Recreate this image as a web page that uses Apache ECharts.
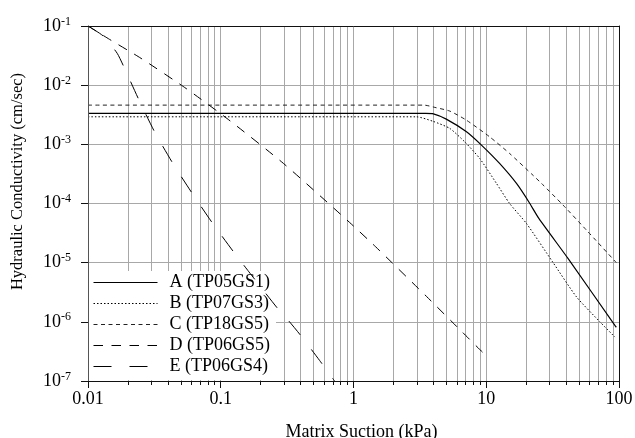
<!DOCTYPE html>
<html><head><meta charset="utf-8">
<script src="https://cdn.jsdelivr.net/npm/echarts@6/dist/echarts.min.js"></script>
<style>html,body{margin:0;padding:0;background:#fff}#c{width:635px;height:438px}</style>
</head><body><div id="c"></div>
<script>
// ---- data ----
const seriesNames = ['A (TP05GS1)', 'B (TP07GS3)', 'C (TP18GS5)', 'D (TP06GS5)', 'E (TP06GS4)'];

const suctionA = [0.01, 3.5, 4.0, 5.0, 7.1, 9.2, 12.6, 16.9, 20.9, 24.9, 41.4, 93.1, 95.5];
const condA    = [3.33e-3, 3.33e-3, 3.27e-3, 2.67e-3, 1.63e-3, 9.7e-4, 4.75e-4, 2.18e-4, 1.07e-4, 5.6e-5, 1.17e-5, 8.7e-7, 8.1e-7];

const suctionB = [0.01, 2.98, 3.97, 5.31, 6.89, 8.93, 11.9, 15.0, 20.1, 31.9, 47.9, 71.8, 93.1];
const condB    = [2.92e-3, 2.92e-3, 2.45e-3, 1.86e-3, 1.10e-3, 5.77e-4, 2.21e-4, 1.0e-4, 4.59e-5, 1.0e-5, 2.63e-6, 1.0e-6, 5.53e-7];

const suctionC = [0.01, 3.4, 4.21, 5.31, 7.09, 10.6, 15.0, 22.5, 26.1, 37.9, 57.0, 95.5];
const condC    = [4.6e-3, 4.6e-3, 4.15e-3, 3.65e-3, 2.56e-3, 1.34e-3, 7.0e-4, 3.0e-4, 2.18e-4, 9.4e-5, 3.53e-5, 1.0e-5];

const suctionD = [0.01, 0.0145, 0.0251, 0.0548, 0.114, 0.297, 0.933, 1.47, 3.54, 6.65, 9.46];
const condD    = [1e-1, 5.96e-2, 2.84e-2, 8.8e-3, 2.63e-3, 4.75e-4, 4.8e-5, 1.85e-5, 2.7e-6, 6.6e-7, 3.0e-7];

const suctionE = [0.01, 0.013, 0.0166, 0.019, 0.0244, 0.032, 0.044, 0.0615, 0.087, 0.125, 0.163, 0.269, 0.326, 0.393, 0.555, 0.72];
const condE    = [1e-1, 6.8e-2, 3.45e-2, 1.85e-2, 5.4e-3, 1.57e-3, 4.6e-4, 1.44e-4, 4.6e-5, 1.52e-5, 7e-6, 1.67e-6, 1.03e-6, 6.2e-7, 2.23e-7, 1e-7];

const xMajorTicks = [0.01, 0.1, 1, 10, 100];
const xTickLabels = ['0.01', '0.1', '1', '10', '100'];
const xGridValues = [0.01,0.02,0.03,0.04,0.05,0.06,0.07,0.08,0.09,
                     0.1,0.2,0.3,0.4,0.5,0.6,0.7,0.8,0.9,
                     1,2,3,4,5,6,7,8,9,
                     10,20,30,40,50,60,70,80,90,100];
const yMajorTicks = [1e-7, 1e-6, 1e-5, 1e-4, 1e-3, 1e-2, 1e-1];
const yTickExponents = ['-7', '-6', '-5', '-4', '-3', '-2', '-1'];

const xTitle = 'Matrix Suction (kPa)';
const yTitle = 'Hydraulic Conductivity (cm/sec)';

// ---- chart ----
const FONT = '"Liberation Serif","Times New Roman",serif';
const zip = (xs, ys) => xs.map((x, i) => [x, ys[i]]);
const idxOf = (arr, v) => arr.findIndex(t => Math.abs(Math.log10(t) - Math.log10(v)) < 1e-6);

const X = {min: 0.01, max: 100};
const Y = {min: 1e-7, max: 1e-1};
const GRIDC = '#a8a8a8';

const baseX = {type: 'log', logBase: 10, min: X.min, max: X.max, splitNumber: 4};
const baseY = {type: 'log', logBase: 10, min: Y.min, max: Y.max, splitNumber: 6};

const lineSeries = (i, xs, ys, color, width, type) => ({
  name: seriesNames[i], type: 'line', data: zip(xs, ys), symbol: 'none', showSymbol: false, z: 2,
  smooth: 0.2, itemStyle: {color: color}, lineStyle: {color: color, width: width, type: type}
});

const chart = echarts.init(document.getElementById('c'), null, {renderer: 'canvas'});
chart.setOption({
  animation: false,
  backgroundColor: '#fff',
  grid: {left: 88, right: 16, top: 26, bottom: 57, containLabel: false, outerBoundsMode: 'none'},
  xAxis: [
    Object.assign({}, baseX, {position: 'bottom', z: 0,
      axisLine: {show: false}, axisTick: {show: false, customValues: xGridValues},
      axisLabel: {show: false},
      splitLine: {show: true, lineStyle: {color: GRIDC, width: 1}}}),
    Object.assign({}, baseX, {position: 'bottom', z: 3,
      axisLine: {show: true, onZero: false, lineStyle: {color: '#111', width: 1}},
      axisTick: {show: true, length: 4, customValues: xGridValues, lineStyle: {color: '#111'}},
      axisLabel: {show: false}, splitLine: {show: false}}),
    Object.assign({}, baseX, {position: 'bottom', z: 3,
      axisLine: {show: false, onZero: false},
      axisTick: {show: true, length: 7, customValues: xMajorTicks, lineStyle: {color: '#111'}},
      axisLabel: {show: true, customValues: xMajorTicks, margin: 9, color: '#000',
        fontFamily: FONT, fontSize: 18,
        formatter: v => xTickLabels[idxOf(xMajorTicks, v)]},
      splitLine: {show: false},
      name: xTitle, nameLocation: 'middle', nameGap: 42,
      nameTextStyle: {fontFamily: FONT, fontSize: 18, color: '#000', padding: [0, 0, 0, 16]}}),
    Object.assign({}, baseX, {position: 'top', z: 3,
      axisLine: {show: true, onZero: false, lineStyle: {color: '#111', width: 1}},
      axisTick: {show: false}, axisLabel: {show: false}, splitLine: {show: false}})
  ],
  yAxis: [
    Object.assign({}, baseY, {position: 'left', z: 0,
      axisLine: {show: false}, axisTick: {show: false, customValues: yMajorTicks},
      axisLabel: {show: false},
      splitLine: {show: true, lineStyle: {color: GRIDC, width: 1}}}),
    Object.assign({}, baseY, {position: 'left', z: 3,
      axisLine: {show: true, onZero: false, lineStyle: {color: '#555', width: 1}},
      axisTick: {show: true, length: 7, customValues: yMajorTicks, lineStyle: {color: '#111'}},
      axisLabel: {show: true, customValues: yMajorTicks, margin: 17,
        formatter: v => '{b|10}{s|' + yTickExponents[idxOf(yMajorTicks, v)] + '}',
        rich: {
          b: {fontFamily: FONT, fontSize: 18, color: '#000'},
          s: {fontFamily: FONT, fontSize: 12, color: '#000', verticalAlign: 'top', padding: [0, 0, 9, 0]}
        }},
      splitLine: {show: false},
      name: yTitle, nameLocation: 'middle', nameGap: 62, nameRotate: 90,
      nameTextStyle: {fontFamily: FONT, fontSize: 16.5, color: '#000', padding: [0, 0, 0, 44]}}),
    Object.assign({}, baseY, {position: 'right', z: 3,
      axisLine: {show: true, onZero: false, lineStyle: {color: '#111', width: 1}},
      axisTick: {show: false}, axisLabel: {show: false}, splitLine: {show: false}})
  ],
  legend: {
    data: seriesNames, orient: 'vertical', left: 88, top: 271,
    itemWidth: 64, itemHeight: 10, itemGap: 0, padding: [1, 6, 3, 5],
    backgroundColor: '#fff', z: 1, selectedMode: false,
    itemStyle: {opacity: 0},
    lineStyle: {width: 1},
    textStyle: {fontFamily: FONT, fontSize: 18, color: '#000', lineHeight: 21, padding: [0, 0, 0, 7]}
  },
  series: [
    lineSeries(0, suctionA, condA, '#000', 1.2, 'solid'),
    lineSeries(1, suctionB, condB, '#000', 1, [1.5, 2]),
    lineSeries(2, suctionC, condC, '#222', 1, [4, 3.5]),
    lineSeries(3, suctionD, condD, '#000', 1, [9.5, 8.5]),
    lineSeries(4, suctionE, condE, '#000', 1, [18, 18])
  ]
});
</script></body></html>
